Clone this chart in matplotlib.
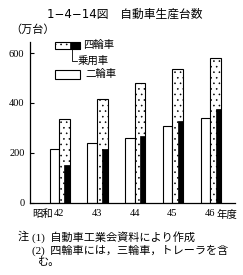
import numpy as np
import matplotlib
matplotlib.use("Agg")
import matplotlib.pyplot as plt

plt.rcParams['font.family'] = ['Liberation Serif', 'Noto Sans CJK JP', 'DejaVu Sans']
plt.rcParams['hatch.linewidth'] = 0.4

years = ['42', '43', '44', '45', '46']
two_wheel = [216, 240, 260, 308, 340]
four_wheel = [336, 416, 480, 536, 580]
passenger = [152, 216, 268, 328, 376]

fig = plt.figure(figsize=(2.43, 2.75), dpi=100)
ax = fig.add_axes([30 / 243, 72 / 275, 205 / 243, 161 / 275])

x = np.arange(len(years))
ax.bar(x - 0.125, two_wheel, 0.25, color='white', edgecolor='black', lw=0.8)
ax.bar(x + 0.145, four_wheel, 0.29, color='white', edgecolor='black', lw=0.8, hatch='...')
ax.bar(x + 0.2175, passenger, 0.145, color='black', edgecolor='black', lw=0.5)

ax.set_xlim(-0.768, 4.66)
ax.set_ylim(0, 644)
ax.spines['top'].set_visible(False)
ax.spines['right'].set_visible(False)
ax.spines['left'].set_linewidth(0.9)
ax.spines['bottom'].set_linewidth(0.9)
ax.set_yticks([0, 200, 400, 600])
ax.tick_params(axis='y', direction='in', length=3, labelsize=7.5, pad=4)
ax.set_xticks(x)
ax.set_xticklabels(years, fontsize=7.5)
ax.tick_params(axis='x', length=0, pad=4)
ax.text(-0.15, -0.04, '昭和', transform=ax.get_xaxis_transform(), ha='right', va='top', fontsize=7.5)
ax.text(4.16, -0.04, '年度', transform=ax.get_xaxis_transform(), ha='left', va='top', fontsize=7.5)

fig.text(0.515, 1 - 14 / 275, '1−4−14図　自動車生産台数', ha='center', va='center',
         fontsize=8.5, family=['DejaVu Sans', 'Noto Sans CJK JP'])
fig.text(10 / 243, 1 - 30 / 275, '（万台）', ha='left', va='center', fontsize=8)

# legend
p1 = plt.Rectangle((55 / 243, 1 - 49 / 275), 25 / 243, 7 / 275, transform=fig.transFigure,
                   facecolor='white', edgecolor='black', hatch='...', lw=0.8)
p1b = plt.Rectangle((70 / 243, 1 - 49 / 275), 10 / 243, 7 / 275, transform=fig.transFigure,
                    facecolor='black', edgecolor='black', lw=0.5)
p2 = plt.Rectangle((55 / 243, 1 - 79 / 275), 25 / 243, 9 / 275, transform=fig.transFigure,
                   facecolor='white', edgecolor='black', lw=0.8)
for p in (p1, p1b, p2):
    fig.patches.append(p)
fig.add_artist(plt.Line2D([72 / 243, 72 / 243, 77 / 243], [1 - 49 / 275, 1 - 61 / 275, 1 - 61 / 275],
                          transform=fig.transFigure, color='black', lw=0.6))
fig.text(83 / 243, 1 - 45 / 275, '四輪車', ha='left', va='center', fontsize=7.5)
fig.text(78 / 243, 1 - 61 / 275, '乗用車', ha='left', va='center', fontsize=7.5)
fig.text(85 / 243, 1 - 74 / 275, '二輪車', ha='left', va='center', fontsize=7.5)

fig.text(18 / 243, 1 - 237 / 275, '注', ha='left', va='center', fontsize=8)
fig.text(32 / 243, 1 - 237 / 275, '(1)  自動車工業会資料により作成', ha='left', va='center', fontsize=8)
fig.text(32 / 243, 1 - 250 / 275, '(2)  四輪車には，三輪車，トレーラを含', ha='left', va='center', fontsize=8)
fig.text(38 / 243, 1 - 262 / 275, 'む。', ha='left', va='center', fontsize=8)

fig.savefig('out.png', dpi=100)
